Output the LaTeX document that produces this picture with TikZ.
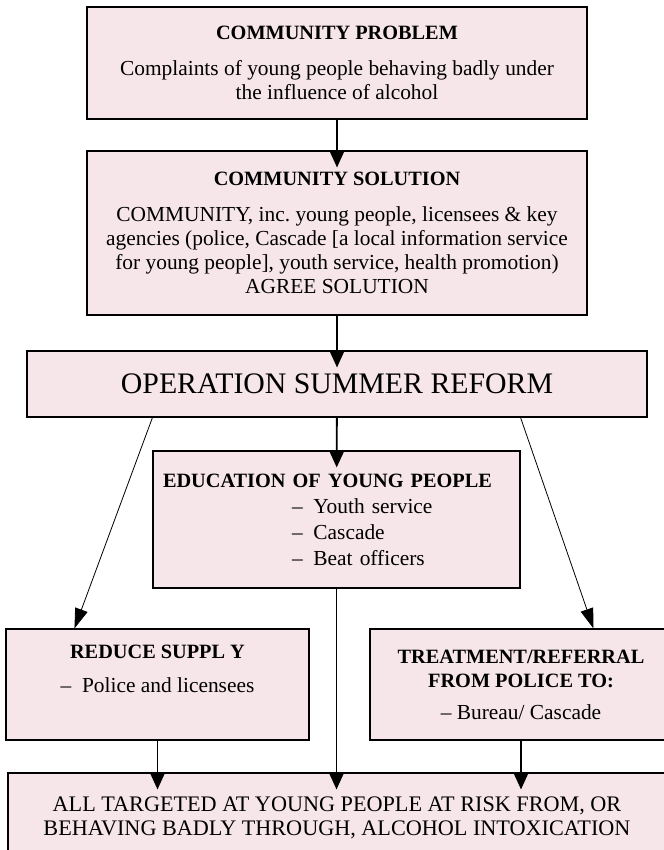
\documentclass[tikz,border=0pt]{standalone}
\usepackage{fontspec}
\setmainfont{Liberation Serif}
\usetikzlibrary{arrows.meta}
\definecolor{boxpink}{RGB}{246,229,233}
\newcommand{\boxtitle}[1]{{\fontsize{20.3}{24}\selectfont\bfseries #1}}
\begin{document}
\begin{tikzpicture}[x=1pt,y=-1pt]

  \tikzstyle{box}=[rectangle,draw=black,line width=1.1pt,fill=boxpink,inner sep=0pt,align=center,font=\fontsize{21.4}{24}\selectfont]
  \tikzstyle{bigarrow}=[line width=1.8pt,-{Triangle[length=17pt,width=15pt]},shorten >=-17pt]
  \tikzstyle{sidearrow}=[line width=0.8pt,-{Triangle[length=20pt,width=13pt]}]

  \useasboundingbox (0,0) rectangle (663,850);

  \node[box,minimum width=500pt,minimum height=112pt] (prob) at (337,63)
    {\boxtitle{COMMUNITY PROBLEM}\\[12pt]
     Complaints of young people behaving badly under\\
     the influence of alcohol};
  \node[box,minimum width=500pt,minimum height=164pt] (sol) at (337,233)
    {\boxtitle{COMMUNITY SOLUTION}\\[12pt]
     COMMUNITY, inc.\ young people, licensees \& key\\
     agencies (police, Cascade [a local information service\\
     for young people], youth service, health promotion)\\
     AGREE SOLUTION};
  \node[box,minimum width=620pt,minimum height=66pt,font=\fontsize{29.8}{34}\selectfont] (osr) at (337,384)
    {OPERATION SUMMER REFORM};
  \node[box,minimum width=367pt,minimum height=137pt,text width=347pt,align=left] (edu) at (336.5,519.5)
    {\boxtitle{EDUCATION OF YOUNG PEOPLE}\\[2pt]
     \hspace*{129pt}--\enspace Youth service\\[2pt]
     \hspace*{129pt}--\enspace Cascade\\[2pt]
     \hspace*{129pt}--\enspace Beat officers};
  \node[box,minimum width=303pt,minimum height=111pt] (supply) at (157.5,684.5)
    {\boxtitle{REDUCE SUPPL Y}\\[10pt]
     --\enspace Police and licensees\\[8pt]\mbox{}};
  \node[box,minimum width=302pt,minimum height=111pt] (treat) at (521,684.5)
    {\boxtitle{TREATMENT/REFERRAL}\\
     \boxtitle{FROM POLICE TO:}\\[8pt]
     -- Bureau/ Cascade};
  \node[box,minimum width=658pt,minimum height=90pt,font=\fontsize{22.2}{23.5}\selectfont] (target) at (337,818)
    {ALL TARGETED AT YOUNG PEOPLE AT RISK FROM, OR\\
     BEHAVING BADLY THROUGH, ALCOHOL INTOXICATION};

  \draw[bigarrow] (prob) -- (sol);
  \draw[bigarrow] (sol) -- (osr);
  \draw[bigarrow] (osr) -- (edu);

  \draw[sidearrow] (osr.south -| edu.west) -- ([xshift=69pt]supply.north west);
  \draw[sidearrow] (osr.south -| edu.east) -- ([xshift=224pt]treat.north west);

  \draw[bigarrow] (supply.south) -- (supply.south |- target.north);
  \draw[bigarrow] (edu.south) -- (edu.south |- target.north);
  \draw[bigarrow] (treat.south) -- (treat.south |- target.north);

  %\draw[step=50pt,gray,very thin] (0,0) grid (663,850);

\end{tikzpicture}
\end{document}
